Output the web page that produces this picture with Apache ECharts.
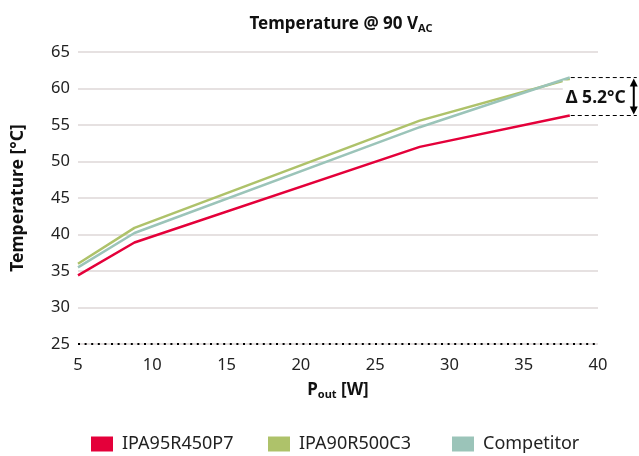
<!DOCTYPE html>
<html><head><meta charset="utf-8">
<script src="https://cdn.jsdelivr.net/npm/echarts@6/dist/echarts.min.js"></script>
<style>html,body{margin:0;padding:0;background:#fff}#c{width:639px;height:456px}</style>
</head><body><div id="c"></div>
<script>
const xValues = [5, 8.8, 28, 38.1];
const seriesNames = ['IPA95R450P7', 'IPA90R500C3', 'Competitor'];
const redValues = [34.4, 38.9, 52.0, 56.3];
const greenValues = [36.0, 40.9, 55.6, 61.3];
const tealValues = [35.5, 40.2, 54.7, 61.5];
const xTicks = [5, 10, 15, 20, 25, 30, 35, 40];
const yTicks = [25, 30, 35, 40, 45, 50, 55, 60, 65];
const deltaLabel = 'Δ 5.2°C';

const colors = ['#E4003A', '#AEC26A', '#9BC4B9'];
const FONT = 'Noto Sans';
const pair = (vals) => xValues.map((x, i) => [x, vals[i]]);
const legendLefts = [91, 268, 452];

const chart = echarts.init(document.getElementById('c'));
chart.setOption({
  animation: false,
  color: colors,
  textStyle: { fontFamily: FONT },
  title: {
    text: '{b|Temperature @ 90 V}{s|AC}',
    left: 336, top: 9, textAlign: 'center',
    textStyle: { rich: {
      b: { fontFamily: FONT, fontSize: 17, fontWeight: 'bold', color: '#111' },
      s: { fontFamily: FONT, fontSize: 11, fontWeight: 'bold', color: '#111', padding: [9, 0, 0, 0] }
    } }
  },
  grid: { left: 78, right: 41, top: 52, bottom: 112, containLabel: false },
  legend: seriesNames.map((nm, i) => ({
    top: 435, left: legendLefts[i], itemWidth: 22, itemHeight: 15, padding: 0,
    icon: 'rect',
    textStyle: { fontFamily: FONT, fontSize: 18, color: '#222', padding: [0, 0, 0, 4] },
    data: [nm]
  })),
  xAxis: {
    type: 'value', min: 5, max: 40, interval: 5,
    name: '{b|P}{s|out}{b| [W]}', nameLocation: 'middle', nameGap: 36,
    nameTextStyle: { rich: {
      b: { fontFamily: FONT, fontSize: 17, fontWeight: 'bold', color: '#111' },
      s: { fontFamily: FONT, fontSize: 11, fontWeight: 'bold', color: '#111', padding: [9, 0, 0, 0] }
    } },
    axisLine: { show: true, lineStyle: { color: '#000', width: 2, type: [2, 4.6], cap: 'butt' } },
    axisTick: { show: false },
    splitLine: { show: false },
    axisLabel: { fontFamily: FONT, fontSize: 16.5, color: '#222', margin: 13,
      formatter: v => xTicks.includes(v) ? String(v) : '' }
  },
  yAxis: {
    type: 'value', min: 25, max: 65, interval: 5,
    name: 'Temperature [°C]', nameLocation: 'middle', nameGap: 51,
    nameTextStyle: { fontFamily: FONT, fontSize: 17.5, fontWeight: 'bold', color: '#111' },
    axisLine: { show: false }, axisTick: { show: false },
    splitLine: { lineStyle: { color: '#e6e1e1', width: 2 } },
    axisLabel: { fontFamily: FONT, fontSize: 16.5, color: '#222', margin: 8,
      formatter: v => yTicks.includes(v) ? String(v) : '' }
  },
  series: [
    { name: seriesNames[0], type: 'line', data: pair(redValues), symbol: 'none', lineStyle: { width: 2.5 }, z: 3 },
    { name: seriesNames[1], type: 'line', data: pair(greenValues), symbol: 'none', lineStyle: { width: 2.5 }, z: 2 },
    { name: seriesNames[2], type: 'line', data: pair(tealValues), symbol: 'none', lineStyle: { width: 2.5 }, z: 2 }
  ]
});

// Delta annotation anchored to the final data points
const n = xValues.length - 1;
const pLow = chart.convertToPixel({ gridIndex: 0 }, [xValues[n], redValues[n]]);
const pHigh = chart.convertToPixel({ gridIndex: 0 }, [xValues[n], Math.max(tealValues[n], greenValues[n])]);
const x0 = pLow[0] + 1, x1 = x0 + 66, ax = x0 + 63;
const midY = (pLow[1] + pHigh[1]) / 2;
chart.setOption({
  graphic: [
    { type: 'rect', shape: { x: x0 - 8, y: pHigh[1] + 3, width: 60, height: pLow[1] - pHigh[1] - 6 }, style: { fill: '#fff' }, z: 10 },
    { type: 'line', shape: { x1: x0, y1: pHigh[1], x2: x1, y2: pHigh[1] }, style: { stroke: '#000', lineWidth: 1, lineDash: [4, 3] }, z: 11 },
    { type: 'line', shape: { x1: x0, y1: pLow[1], x2: x1, y2: pLow[1] }, style: { stroke: '#000', lineWidth: 1, lineDash: [4, 3] }, z: 11 },
    { type: 'line', shape: { x1: ax, y1: pHigh[1] + 6, x2: ax, y2: pLow[1] - 6 }, style: { stroke: '#000', lineWidth: 2 }, z: 11 },
    { type: 'polygon', shape: { points: [[ax, pHigh[1] + 1], [ax - 4, pHigh[1] + 9], [ax + 4, pHigh[1] + 9]] }, style: { fill: '#000' }, z: 11 },
    { type: 'polygon', shape: { points: [[ax, pLow[1] - 1], [ax - 4, pLow[1] - 9], [ax + 4, pLow[1] - 9]] }, style: { fill: '#000' }, z: 11 },
    { type: 'text', x: x0 + 25, y: midY + 1, style: { text: deltaLabel, fontFamily: FONT, fontSize: 17.5, fontWeight: 'bold', fill: '#111', align: 'center', verticalAlign: 'middle' }, z: 12 }
  ]
});
</script></body></html>
